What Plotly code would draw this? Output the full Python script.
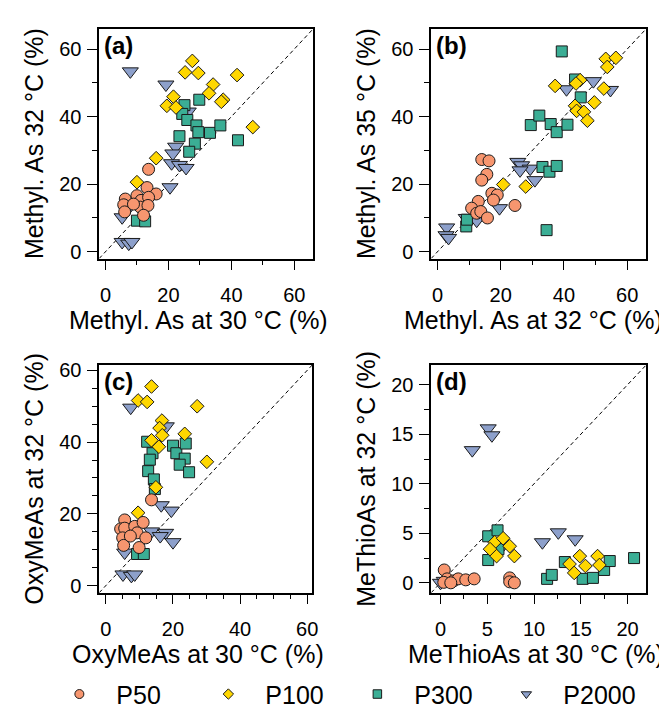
import plotly.graph_objects as go

# ---------------- data (%) ----------------
SERIES = ["P50", "P100", "P300", "P2000"]

# Panel (a): Methyl. As, 30 °C (x) vs 32 °C (y)
A_P50_X = [13.7, 6.3, 5.8, 6.1, 10.0, 13.2, 16.1, 11.3, 13.7, 11.1, 13.5, 12.1, 8.9]
A_P50_Y = [24.4, 15.6, 13.9, 11.8, 16.6, 19.0, 17.1, 15.2, 16.1, 13.2, 13.7, 10.8, 14.1]
A_P100_X = [27.6, 25.3, 29.5, 41.8, 34.2, 32.9, 37.4, 36.8, 21.6, 19.5, 22.4, 46.8, 16.1, 10.0]
A_P100_Y = [56.5, 53.1, 52.9, 52.3, 49.5, 46.9, 45.0, 44.4, 45.9, 43.2, 42.7, 36.9, 27.7, 20.6]
A_P300_X = [25.1, 29.8, 24.4, 26.0, 28.9, 29.5, 33.2, 36.5, 23.5, 28.4, 26.6, 42.1, 10.0, 12.6]
A_P300_Y = [43.4, 45.0, 40.8, 39.0, 37.4, 35.4, 35.2, 37.4, 34.2, 32.0, 29.6, 33.0, 9.2, 9.0]
A_P2000_X = [7.9, 19.2, 26.3, 22.3, 21.4, 21.0, 23.5, 25.6, 20.5, 5.3, 7.9, 5.3, 7.4, 8.4]
A_P2000_Y = [53.4, 49.5, 41.5, 31.1, 29.1, 26.2, 25.7, 24.8, 19.1, 10.2, 13.6, 2.9, 2.4, 2.9]

# Panel (b): Methyl. As, 32 °C (x) vs 35 °C (y)
B_P50_X = [14.0, 16.3, 15.6, 14.0, 17.2, 18.9, 17.7, 12.9, 10.8, 12.4, 13.7, 15.8, 24.5]
B_P50_Y = [27.3, 26.9, 22.9, 21.2, 17.3, 16.8, 15.3, 14.9, 12.9, 11.4, 11.9, 10.0, 13.7]
B_P100_X = [53.2, 56.4, 53.7, 37.2, 45.1, 43.8, 52.6, 49.6, 43.5, 44.0, 46.3, 47.4, 20.8, 27.9]
B_P100_Y = [57.1, 57.4, 54.7, 49.1, 50.8, 49.8, 48.3, 44.2, 43.2, 41.7, 41.4, 38.8, 19.9, 19.3]
B_P300_X = [39.3, 29.5, 32.2, 35.8, 37.7, 41.1, 43.5, 45.3, 33.2, 35.4, 37.7, 34.5, 9.1, 9.3]
B_P300_Y = [59.3, 37.5, 40.3, 37.8, 35.4, 37.6, 51.0, 45.7, 25.1, 23.7, 25.4, 6.4, 7.5, 9.5]
B_P2000_X = [40.8, 49.3, 54.7, 25.4, 26.6, 29.3, 26.1, 30.8, 19.6, 12.4, 9.1, 2.9, 2.7, 3.5]
B_P2000_Y = [48.1, 50.5, 47.9, 26.6, 25.6, 24.6, 24.1, 21.2, 12.9, 9.2, 10.0, 7.2, 4.9, 4.1]

# Panel (c): OxyMeAs, 30 °C (x) vs 32 °C (y)
C_P50_X = [13.6, 5.6, 4.4, 5.6, 5.0, 5.3, 8.6, 11.1, 9.3, 11.9, 9.9, 7.3]
C_P50_Y = [23.9, 18.3, 15.8, 16.0, 13.3, 11.2, 16.5, 17.6, 14.7, 13.3, 10.6, 13.8]
C_P100_X = [13.6, 9.6, 12.3, 27.2, 16.7, 16.0, 16.8, 13.6, 15.8, 23.5, 30.1, 14.9, 9.6]
C_P100_Y = [55.5, 51.6, 51.2, 50.0, 46.0, 43.9, 41.9, 40.5, 38.7, 42.3, 34.5, 27.4, 20.3]
C_P300_X = [12.3, 13.9, 13.1, 12.6, 14.3, 14.6, 20.0, 21.0, 23.8, 23.5, 22.0, 24.8, 9.3, 11.3]
C_P300_Y = [40.1, 36.9, 35.1, 31.9, 29.6, 26.9, 39.0, 36.9, 39.6, 35.4, 33.7, 31.6, 8.8, 8.8]
C_P2000_X = [7.4, 18.0, 16.5, 19.5, 13.6, 17.8, 16.2, 20.0, 5.6, 5.1, 7.6, 8.6]
C_P2000_Y = [49.6, 44.4, 22.4, 20.9, 15.1, 14.7, 13.8, 12.1, 9.2, 3.1, 2.7, 3.1]

# Panel (d): MeThioAs, 30 °C (x) vs 32 °C (y)
D_P50_X = [0.4, 0.7, 1.4, 1.9, 2.7, 3.6, 0.35, 7.4, 7.4, 7.9, 1.1]
D_P50_Y = [1.3, 0.4, 0.2, 0.4, 0.3, 0.4, 0.05, 0.5, 0.1, 0.0, 0.0]
D_P100_X = [5.8, 6.7, 5.3, 7.4, 6.0, 7.9, 13.8, 14.9, 15.5, 14.3, 16.8, 17.0]
D_P100_Y = [4.1, 4.5, 3.4, 3.7, 2.7, 2.7, 1.9, 2.7, 1.7, 1.0, 2.7, 1.8]
D_P300_X = [5.1, 6.1, 5.1, 6.2, 11.4, 11.9, 13.3, 15.2, 16.3, 17.5, 18.1, 20.7]
D_P300_Y = [4.7, 5.3, 2.3, 3.4, 0.4, 0.8, 2.1, 0.4, 0.5, 1.3, 2.2, 2.5]
D_P2000_X = [5.1, 5.5, 3.4, 10.9, 12.6, 14.4, 0.0, 0.4, 6.2]
D_P2000_Y = [15.6, 14.9, 13.4, 4.1, 5.1, 4.4, 0.0, 0.2, 3.2]

PANEL_LABELS = ["(a)", "(b)", "(c)", "(d)"]
X_TITLES = ["Methyl. As at 30 °C (%)", "Methyl. As at 32 °C (%)",
            "OxyMeAs at 30 °C (%)", "MeThioAs at 30 °C (%)"]
Y_TITLES = ["Methyl. As 32 °C (%)", "Methyl. As 35 °C (%)",
            "OxyMeAs at 32 °C (%)", "MeThioAs at 32 °C (%)"]
RANGES = [[-2, 66], [-2, 66], [-2, 61.5], [-1, 22]]
MAJOR = [20, 20, 20, 5]
MINOR = [10, 10, 5, 2.5]

PANELS = [
    {"P50": (A_P50_X, A_P50_Y), "P100": (A_P100_X, A_P100_Y),
     "P300": (A_P300_X, A_P300_Y), "P2000": (A_P2000_X, A_P2000_Y)},
    {"P50": (B_P50_X, B_P50_Y), "P100": (B_P100_X, B_P100_Y),
     "P300": (B_P300_X, B_P300_Y), "P2000": (B_P2000_X, B_P2000_Y)},
    {"P50": (C_P50_X, C_P50_Y), "P100": (C_P100_X, C_P100_Y),
     "P300": (C_P300_X, C_P300_Y), "P2000": (C_P2000_X, C_P2000_Y)},
    {"P50": (D_P50_X, D_P50_Y), "P100": (D_P100_X, D_P100_Y),
     "P300": (D_P300_X, D_P300_Y), "P2000": (D_P2000_X, D_P2000_Y)},
]

# ---------------- styles ----------------
COLORS = {"P50": "#F7966F", "P100": "#FFD700", "P300": "#3BAE95", "P2000": "#8DA0CB"}
SYMBOLS = {"P50": "circle", "P100": "diamond", "P300": "square", "P2000": "triangle-down"}
SIZES = {"P50": 12, "P100": 10.5, "P300": 11, "P2000": 14}
LEG_SIZES = {"P50": 9, "P100": 8, "P300": 8.5, "P2000": 9}
DRAW_ORDER = ["P2000", "P300", "P100", "P50"]

W, H = 667, 710
FONT = "Liberation Sans, Arial, sans-serif"

# panel frames in pixels (left, right, top, bottom)
FRAMES = [(92, 308, 15, 248), (427, 644, 15, 248),
          (92, 307, 356, 587), (427, 644, 356, 587)]
# x-title horizontal centre (fraction of panel width) and vertical offset (px below frame)
XT_POS = [0.465, 0.477, 0.463, 0.486]
XT_OFF = 62

fig = go.Figure()

for i, panel in enumerate(PANELS):
    n = "" if i == 0 else str(i + 1)
    xa, ya = "x" + n, "y" + n
    lo, hi = RANGES[i]
    # 1:1 line
    fig.add_trace(go.Scatter(x=[lo, hi], y=[lo, hi], mode="lines", xaxis=xa, yaxis=ya,
                             line=dict(color="black", width=1, dash="4px,3px"),
                             showlegend=False, hoverinfo="skip"))
    for s in DRAW_ORDER:
        xs, ys = panel[s]
        fig.add_trace(go.Scatter(
            x=xs, y=ys, mode="markers", xaxis=xa, yaxis=ya, name=s, showlegend=False,
            marker=dict(symbol=SYMBOLS[s], size=SIZES[s], color=COLORS[s],
                        line=dict(color="#1a1a1a", width=1))))

# legend entries
for s in SERIES:
    fig.add_trace(go.Scatter(
        x=[None], y=[None], mode="markers", name=s, showlegend=True,
        marker=dict(symbol=SYMBOLS[s], size=LEG_SIZES[s], color=COLORS[s],
                    line=dict(color="#1a1a1a", width=1))))

layout = dict(
    width=W, height=H, margin=dict(l=0, r=0, t=0, b=0),
    paper_bgcolor="white", plot_bgcolor="white",
    font=dict(family=FONT, size=20, color="black"),
    showlegend=True,
    legend=dict(orientation="h", x=0.052, xanchor="left", y=1 - 690 / H, yanchor="middle",
                font=dict(size=25, family=FONT), entrywidth=70, entrywidthmode="pixels",
                itemwidth=64, itemsizing="trace", bgcolor="rgba(0,0,0,0)"),
)

annotations = []
for i in range(4):
    n = "" if i == 0 else str(i + 1)
    l, r, t, b = FRAMES[i]
    lo, hi = RANGES[i]
    common = dict(
        range=[lo, hi], showgrid=False, zeroline=False,
        showline=True, mirror=True, linecolor="black", linewidth=1.5,
        ticks="outside", ticklen=10, tickwidth=1.2, tickcolor="black",
        dtick=MAJOR[i], tick0=0,
        minor=dict(dtick=MINOR[i], tick0=0, ticks="outside", ticklen=5,
                   tickwidth=1.2, tickcolor="black", showgrid=False),
        tickfont=dict(size=20, family=FONT, color="black"),
    )
    layout["xaxis" + n] = dict(common, domain=[l / W, r / W], anchor="y" + n,
                               ticklabelstandoff=8)
    layout["yaxis" + n] = dict(
        common, domain=[1 - b / H, 1 - t / H], anchor="x" + n,
        title=dict(text=Y_TITLES[i], font=dict(size=25, family=FONT), standoff=8),
        ticklabelstandoff=2)
    annotations.append(dict(
        text="<b>" + PANEL_LABELS[i] + "</b>", xref="x" + n + " domain", yref="y" + n + " domain",
        x=0.012, y=0.995, xanchor="left", yanchor="top", showarrow=False,
        font=dict(size=24, family=FONT, color="black")))
    annotations.append(dict(
        text=X_TITLES[i], xref="x" + n + " domain", yref="y" + n + " domain",
        x=XT_POS[i], y=-XT_OFF / (b - t), xanchor="center", yanchor="middle",
        showarrow=False, font=dict(size=25, family=FONT, color="black")))

layout["annotations"] = annotations
fig.update_layout(**layout)
fig.write_html("out.html")
